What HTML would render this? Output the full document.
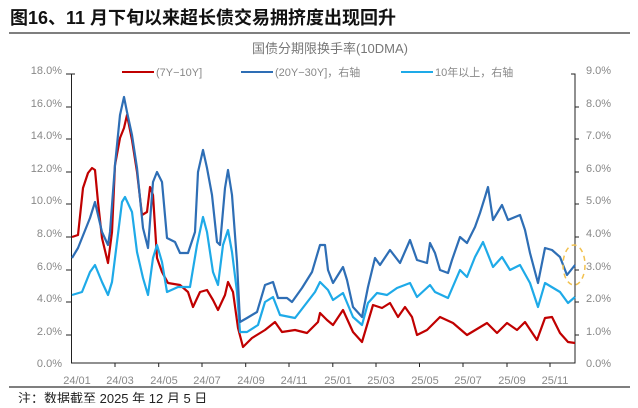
<!DOCTYPE html>
<html><head><meta charset="utf-8"><style>
body{margin:0;background:#fff;width:638px;height:403px;overflow:hidden;font-family:"Liberation Sans","Noto Sans CJK SC",sans-serif}
</style></head><body>
<svg width="638" height="403" xmlns="http://www.w3.org/2000/svg" font-family="Liberation Sans, Noto Sans CJK SC, sans-serif">
<text x="10" y="24" font-size="18" font-weight="bold" fill="#111">图16、11 月下旬以来超长债交易拥挤度出现回升</text>
<line x1="9" y1="33" x2="630" y2="33" stroke="#333" stroke-width="1.2"/>
<text x="330" y="53" font-size="13" fill="#777" text-anchor="middle">国债分期限换手率(10DMA)</text>
<g font-size="11" fill="#888">
<text x="62" y="74" text-anchor="end">18.0%</text><text x="62" y="107" text-anchor="end">16.0%</text>
<text x="62" y="139" text-anchor="end">14.0%</text><text x="62" y="172" text-anchor="end">12.0%</text>
<text x="62" y="204" text-anchor="end">10.0%</text><text x="62" y="237" text-anchor="end">8.0%</text>
<text x="62" y="270" text-anchor="end">6.0%</text><text x="62" y="302" text-anchor="end">4.0%</text>
<text x="62" y="335" text-anchor="end">2.0%</text><text x="62" y="367" text-anchor="end">0.0%</text>
<text x="586" y="74">9.0%</text><text x="586" y="107">8.0%</text><text x="586" y="139">7.0%</text>
<text x="586" y="172">6.0%</text><text x="586" y="204">5.0%</text><text x="586" y="237">4.0%</text>
<text x="586" y="270">3.0%</text><text x="586" y="302">2.0%</text><text x="586" y="335">1.0%</text>
<text x="586" y="367">0.0%</text>
<g text-anchor="middle">
<text x="77" y="384">24/01</text><text x="120" y="384">24/03</text><text x="164" y="384">24/05</text>
<text x="207" y="384">24/07</text><text x="251" y="384">24/09</text><text x="294" y="384">24/11</text>
<text x="338" y="384">25/01</text><text x="381" y="384">25/03</text><text x="425" y="384">25/05</text>
<text x="468" y="384">25/07</text><text x="512" y="384">25/09</text><text x="555" y="384">25/11</text>
</g></g>
<g stroke="#222" stroke-width="1" fill="none">
<path d="M75 74H71.5V363H575V74H571"/>
<path d="M66 74H71.5M66 107H71.5M66 139H71.5M66 172H71.5M66 204H71.5M66 237H71.5M66 270H71.5M66 302H71.5M66 335H71.5"/>
<path d="M575 107H579M575 139H579M575 172H579M575 204H579M575 237H579M575 270H579M575 302H579M575 335H579"/>
<path d="M115 363V367M158.7 363V367M202 363V367M245.7 363V367M289 363V367M332.8 363V367M376 363V367M419.5 363V367M463 363V367M507 363V367M550 363V367"/>
</g>
<g stroke-width="2"><line x1="122" y1="72" x2="154" y2="72" stroke="#C00000"/>
<line x1="241" y1="72" x2="273" y2="72" stroke="#2E6EB5"/>
<line x1="401" y1="72" x2="433" y2="72" stroke="#1EAAE8"/></g>
<g font-size="11" fill="#888"><text x="156" y="76">(7Y−10Y]</text><text x="275" y="76">(20Y−30Y]，右轴</text><text x="435" y="76">10年以上，右轴</text></g>
<g fill="none" stroke-width="2.2" stroke-linejoin="round">
<polyline stroke="#C00000" points="72,237 78,235 83,188 88,173 92,168 95,170 98,202 102,238 108,263 112,232 115,165 120,138 124,128 127,115 132,140 137,172 142,215 147,212 150,187 153,195 157,258 162,272 168,283 180,285 188,292 193,307 200,292 207,290 213,300 218,310 225,295 228,282 233,292 238,328 243,347 252,338 265,330 275,322 282,332 295,330 307,333 318,322 320,313 327,320 333,325 343,310 353,332 362,342 373,305 382,308 390,303 398,317 405,307 412,317 417,335 427,330 440,317 453,323 467,335 487,323 497,333 507,323 517,330 525,322 537,340 545,318 552,317 560,333 568,342 575,343"/>
<polyline stroke="#1EAAE8" points="72,295 82,292 90,272 95,265 102,282 108,295 112,282 117,242 122,202 125,197 132,212 137,252 143,278 148,295 153,258 157,245 162,262 167,292 178,287 190,287 197,245 203,217 207,232 213,272 218,285 223,245 228,230 232,252 237,292 240,332 247,332 258,325 265,302 273,297 280,315 295,318 305,305 315,292 320,282 328,290 333,300 343,293 353,317 362,325 368,303 377,293 387,295 397,288 410,283 417,297 430,285 435,292 448,298 460,270 467,277 475,257 483,242 493,267 502,257 510,270 520,265 530,283 538,307 545,283 560,292 568,303 575,297"/>
<polyline stroke="#2E6EB5" points="72,258 78,248 90,218 95,202 98,215 102,232 108,245 110,232 115,165 120,115 124,97 127,112 132,135 137,168 143,228 148,248 153,182 157,172 162,182 167,238 175,242 180,253 188,253 195,232 198,172 203,150 207,168 212,195 217,242 220,245 225,188 228,170 232,195 237,262 240,322 247,318 257,312 265,285 273,282 278,298 287,298 292,302 302,288 312,272 320,245 325,245 328,270 333,283 343,267 347,280 353,307 362,317 368,287 375,258 380,265 390,250 400,263 410,240 417,260 427,263 430,243 435,253 440,270 448,273 452,260 460,237 467,243 475,227 480,213 485,197 488,187 493,220 502,205 508,220 520,215 525,230 530,253 538,283 545,248 552,250 560,257 567,275 575,265"/>
</g>
<ellipse cx="574" cy="265" rx="11" ry="20" fill="none" stroke="#F2C14E" stroke-width="1.5" stroke-dasharray="5,4"/>
<line x1="9" y1="387" x2="630" y2="387" stroke="#333" stroke-width="1.2"/>
<text x="18" y="403" font-size="13" fill="#222">注：数据截至 2025 年 12 月 5 日</text>
</svg>
</body></html>
